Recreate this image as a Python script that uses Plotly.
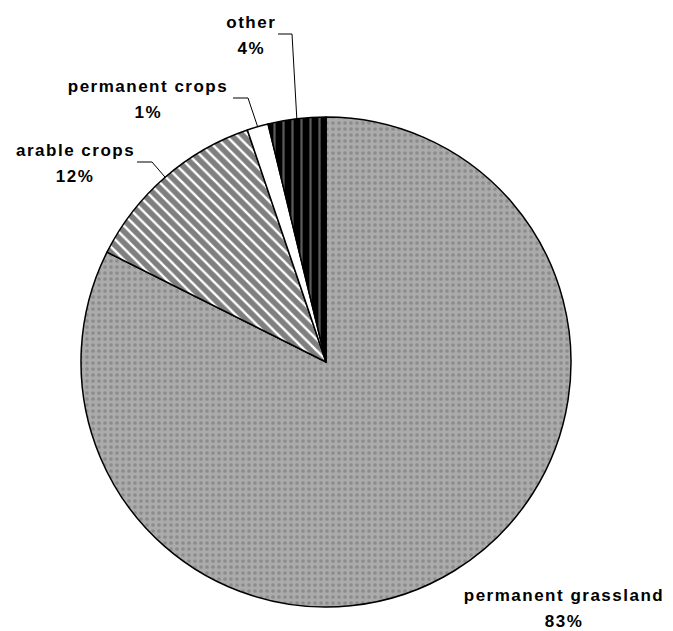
import math
import plotly.graph_objects as go

# ---- data ----
categories = ["permanent grassland", "arable crops", "permanent crops", "other"]
shares = [82.4, 12.4, 1.4, 3.8]          # slice sizes
pct_labels = ["83%", "12%", "1%", "4%"]  # printed percentages

# ---- layout constants ----
W, H = 673, 631
CX, CY, R = 326, 362, 245  # pie centre / radius in pixels (from top-left)

def px(x):
    return x / W

def py(y):
    return 1 - y / H

fig = go.Figure()
fig.add_trace(go.Pie(
    labels=categories,
    values=shares,
    sort=False,
    direction="clockwise",
    rotation=0,
    textinfo="none",
    hoverinfo="label+percent",
    showlegend=False,
    domain=dict(x=[px(CX - R), px(CX + R)], y=[py(CY + R), py(CY - R)]),
    marker=dict(
        colors=["#a6a6a6", "#808080", "#ffffff", "#000000"],
        line=dict(color="#000000", width=1.5),
        pattern=dict(
            fillmode="replace",
            shape=[".", "\\", "", "|"],
            bgcolor=["#ababab", "#7f7f7f", "#ffffff", "#000000"],
            fgcolor=["#8c8c8c", "#ffffff", "#ffffff", "#5a5a5a"],
            size=[6, 8, 8, 9],
            solidity=[0.3, 0.3, 0.3, 0.25],
        ),
    ),
))

# label placement (pixel centres of the two text lines) and leader-line elbows
label_pos = {
    "permanent grassland": dict(x=564, y1=595, y2=621, elbow=None),
    "arable crops": dict(x=75, y1=151, y2=176, elbow=((137, 162), (152, 162))),
    "permanent crops": dict(x=148, y1=86, y2=112, elbow=((233, 98), (248, 98))),
    "other": dict(x=251, y1=22, y2=48, elbow=((278, 34), (292, 34))),
}

font = dict(family="Liberation Sans, Arial, sans-serif", size=17, color="#000000")
annotations = []
shapes = []
total = sum(shares)
cum = 0.0
for cat, val, pct in zip(categories, shares, pct_labels):
    mid = (cum + val / 2) / total * 2 * math.pi  # clockwise from 12 o'clock
    cum += val
    p = label_pos[cat]
    annotations.append(dict(x=px(p["x"]), y=py(p["y1"]), xref="paper", yref="paper",
                            text=f"<b>{cat}</b>", showarrow=False, font=font,
                            xanchor="center", yanchor="middle"))
    annotations.append(dict(x=px(p["x"]), y=py(p["y2"]), xref="paper", yref="paper",
                            text=f"<b>{pct}</b>", showarrow=False, font=font,
                            xanchor="center", yanchor="middle"))
    if p["elbow"]:
        ex = CX + R * math.sin(mid)
        ey = CY - R * math.cos(mid)
        (ax, ay), (bx, by) = p["elbow"]
        path = f"M {px(ax)} {py(ay)} L {px(bx)} {py(by)} L {px(ex)} {py(ey)}"
        shapes.append(dict(type="path", path=path, xref="paper", yref="paper",
                           line=dict(color="#000000", width=1)))

fig.update_layout(
    width=W, height=H,
    margin=dict(l=0, r=0, t=0, b=0),
    paper_bgcolor="#ffffff",
    plot_bgcolor="#ffffff",
    annotations=annotations,
    shapes=shapes,
)

post = (
    "document.body.style.margin='0';"
    "document.querySelectorAll('.annotation-text').forEach(function(e){"
    "e.style.letterSpacing='1.5px';});"
)
fig.write_html("out.html", post_script=post, config={"displayModeBar": False})
